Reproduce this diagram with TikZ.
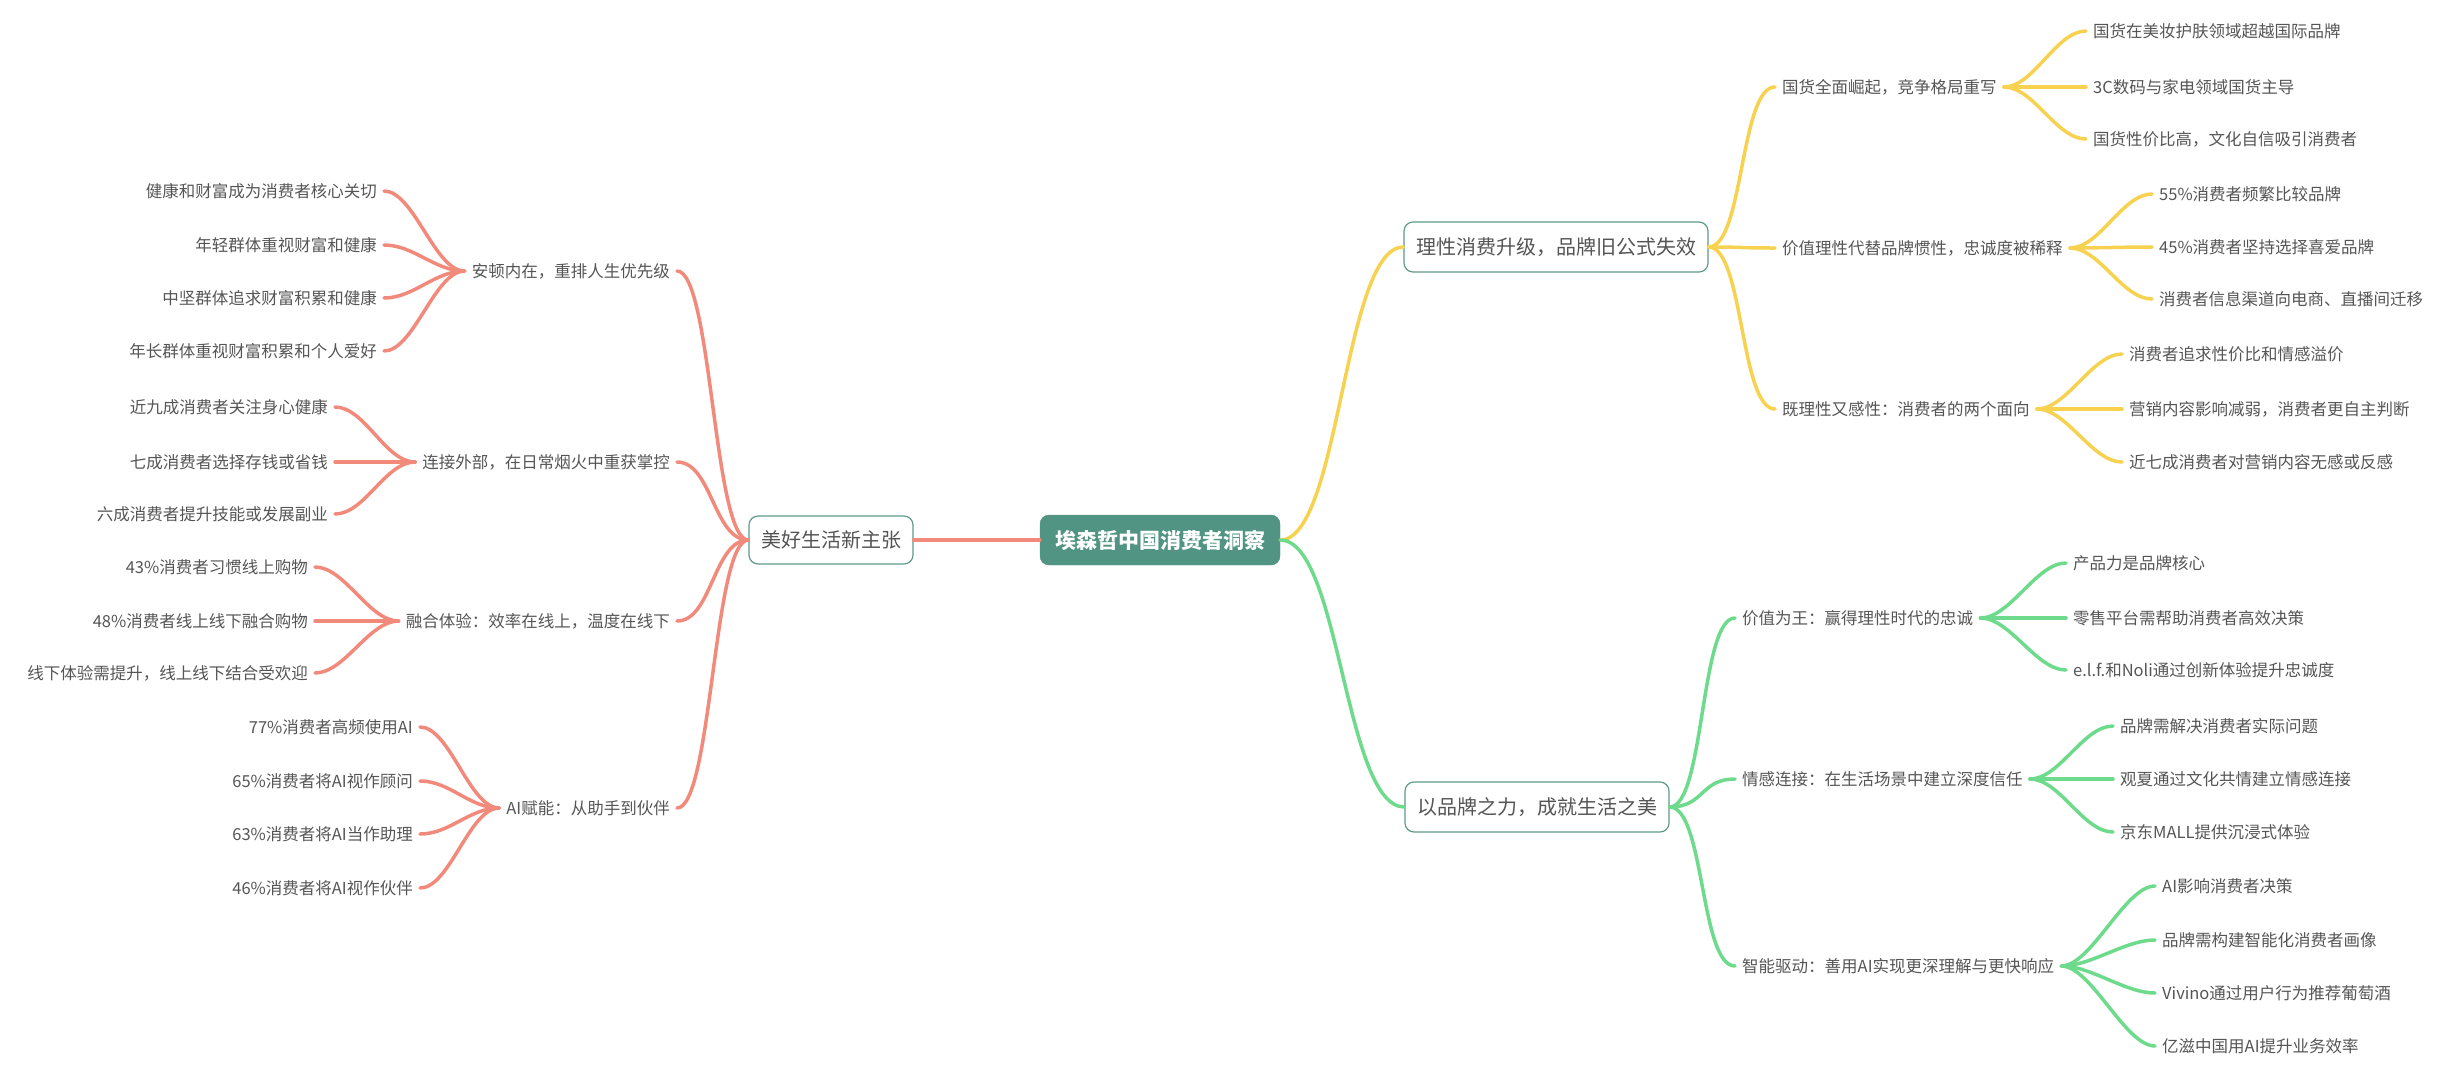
\documentclass[tikz,border=0pt]{standalone}
\usepackage{fontspec}
\setmainfont{Noto Sans CJK SC}
\definecolor{cy}{HTML}{F7D250}
\definecolor{cg}{HTML}{6EDB8C}
\definecolor{cr}{HTML}{F28A7C}
\definecolor{rootc}{HTML}{519483}
\definecolor{bord}{HTML}{5E9A88}
\definecolor{txt}{HTML}{555555}
\begin{document}
\begin{tikzpicture}[x=1pt,y=-1pt,
  rootbox/.style={fill=rootc,draw=rootc,rounded corners=9pt,text=white,font=\fontsize{21}{25}\selectfont\bfseries,minimum height=50pt,minimum width=240pt,inner sep=0pt},
  brbox/.style={fill=white,draw=bord,line width=1.2pt,rounded corners=9pt,text=txt,font=\fontsize{20}{24}\selectfont,minimum height=50pt,inner xsep=12pt},
  lbl/.style={text=txt,font=\fontsize{16.5}{20}\selectfont,inner sep=7pt},
  lw/.style={lbl,anchor=west},
  le/.style={lbl,anchor=east},
  con/.style={line width=3.5pt,line cap=round}]
\useasboundingbox (0,0) rectangle (2456,1080);
\node[rootbox] (root) at (1160,540) {埃森哲中国消费者洞察};
\node[brbox] (b1) at (1556,247) {理性消费升级，品牌旧公式失效};
\node[brbox] (b2) at (1537,807) {以品牌之力，成就生活之美};
\node[brbox,minimum height=48pt] (b3) at (831,540) {美好生活新主张};
\newcommand\rc[4]{\draw[con,#1] (#2) .. controls +(#4,0) and +(-#4,0) .. (#3);}
\newcommand\lc[4]{\draw[con,#1] (#2) .. controls +(-#4,0) and +(#4,0) .. (#3);}
\rc{cy}{root.east}{b1.west}{60}
\rc{cg}{root.east}{b2.west}{60}
\draw[con,cr] (root.west) -- (b3.east);
% branch 1
\node[lw] (s11) at (1775,87) {国货全面崛起，竞争格局重写};
\node[lw] (s12) at (1775,248) {价值理性代替品牌惯性，忠诚度被稀释};
\node[lw] (s13) at (1775,409) {既理性又感性：消费者的两个面向};
\foreach \s in {s11,s12,s13}{\rc{cy}{b1.east}{\s.west}{35}}
\node[lw] (l111) at (2086,31) {国货在美妆护肤领域超越国际品牌};
\node[lw] (l112) at (2086,87) {3C数码与家电领域国货主导};
\node[lw] (l113) at (2086,139) {国货性价比高，文化自信吸引消费者};
\foreach \s in {l111,l112,l113}{\rc{cy}{s11.east}{\s.west}{30}}
\node[lw] (l121) at (2152,194) {55\%消费者频繁比较品牌};
\node[lw] (l122) at (2152,247) {45\%消费者坚持选择喜爱品牌};
\node[lw] (l123) at (2152,299) {消费者信息渠道向电商、直播间迁移};
\foreach \s in {l121,l122,l123}{\rc{cy}{s12.east}{\s.west}{30}}
\node[lw] (l131) at (2122,354) {消费者追求性价比和情感溢价};
\node[lw] (l132) at (2122,409) {营销内容影响减弱，消费者更自主判断};
\node[lw] (l133) at (2122,462) {近七成消费者对营销内容无感或反感};
\foreach \s in {l131,l132,l133}{\rc{cy}{s13.east}{\s.west}{30}}
% branch 2
\node[lw] (s21) at (1735,618) {价值为王：赢得理性时代的忠诚};
\node[lw] (s22) at (1735,779) {情感连接：在生活场景中建立深度信任};
\node[lw] (s23) at (1735,966) {智能驱动：善用AI实现更深理解与更快响应};
\foreach \s in {s21,s22,s23}{\rc{cg}{b2.east}{\s.west}{35}}
\node[lw] (l211) at (2066,563) {产品力是品牌核心};
\node[lw] (l212) at (2066,618) {零售平台需帮助消费者高效决策};
\node[lw] (l213) at (2066,670) {e.l.f.和Noli通过创新体验提升忠诚度};
\foreach \s in {l211,l212,l213}{\rc{cg}{s21.east}{\s.west}{30}}
\node[lw] (l221) at (2113,726) {品牌需解决消费者实际问题};
\node[lw] (l222) at (2113,779) {观夏通过文化共情建立情感连接};
\node[lw] (l223) at (2113,832) {京东MALL提供沉浸式体验};
\foreach \s in {l221,l222,l223}{\rc{cg}{s22.east}{\s.west}{30}}
\node[lw] (l231) at (2155,886) {AI影响消费者决策};
\node[lw] (l232) at (2155,940) {品牌需构建智能化消费者画像};
\node[lw] (l233) at (2155,993) {Vivino通过用户行为推荐葡萄酒};
\node[lw] (l234) at (2155,1046) {亿滋中国用AI提升业务效率};
\foreach \s in {l231,l232,l233,l234}{\rc{cg}{s23.east}{\s.west}{30}}
% branch 3
\node[le] (s31) at (677,271) {安顿内在，重排人生优先级};
\node[le] (s32) at (677,462) {连接外部，在日常烟火中重获掌控};
\node[le] (s33) at (677,621) {融合体验：效率在线上，温度在线下};
\node[le] (s34) at (677,808) {AI赋能：从助手到伙伴};
\foreach \s in {s31,s32,s33,s34}{\lc{cr}{b3.west}{\s.east}{35}}
\node[le] (l311) at (384,191) {健康和财富成为消费者核心关切};
\node[le] (l312) at (384,245) {年轻群体重视财富和健康};
\node[le] (l313) at (384,298) {中坚群体追求财富积累和健康};
\node[le] (l314) at (384,351) {年长群体重视财富积累和个人爱好};
\foreach \s in {l311,l312,l313,l314}{\lc{cr}{s31.west}{\s.east}{30}}
\node[le] (l321) at (335,407) {近九成消费者关注身心健康};
\node[le] (l322) at (335,462) {七成消费者选择存钱或省钱};
\node[le] (l323) at (335,514) {六成消费者提升技能或发展副业};
\foreach \s in {l321,l322,l323}{\lc{cr}{s32.west}{\s.east}{30}}
\node[le] (l331) at (315,567) {43\%消费者习惯线上购物};
\node[le] (l332) at (315,621) {48\%消费者线上线下融合购物};
\node[le] (l333) at (315,673) {线下体验需提升，线上线下结合受欢迎};
\foreach \s in {l331,l332,l333}{\lc{cr}{s33.west}{\s.east}{30}}
\node[le] (l341) at (420,727) {77\%消费者高频使用AI};
\node[le] (l342) at (420,781) {65\%消费者将AI视作顾问};
\node[le] (l343) at (420,834) {63\%消费者将AI当作助理};
\node[le] (l344) at (420,888) {46\%消费者将AI视作伙伴};
\foreach \s in {l341,l342,l343,l344}{\lc{cr}{s34.west}{\s.east}{30}}
\end{tikzpicture}
\end{document}
